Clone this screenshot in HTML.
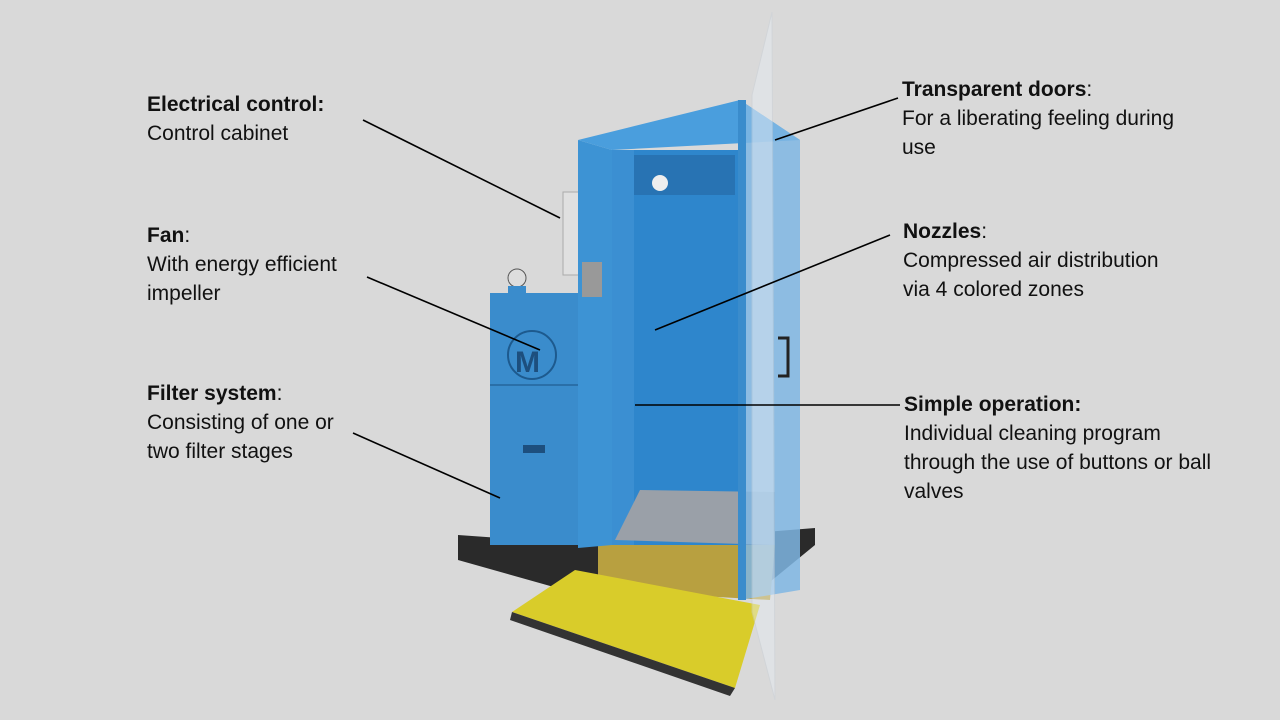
<!DOCTYPE html>
<html><head><meta charset="utf-8"><style>
html,body{margin:0;padding:0;}
body{width:1280px;height:720px;background:#d9d9d9;position:relative;overflow:hidden;font-family:"Liberation Sans",sans-serif;color:#111;}
.l{position:absolute;font-size:21px;line-height:29px;white-space:nowrap;}
.l b{font-weight:bold;}
svg{position:absolute;left:0;top:0;}
</style></head><body>
<svg width="1280" height="720" viewBox="0 0 1280 720">
  <polygon points="458,535 600,545 815,528 815,545 760,590 600,600 458,560" fill="#2a2a2a"/>
  <polygon points="598,545 775,545 770,600 598,590" fill="#b8a040"/>
  <polygon points="512,612 575,570 760,605 735,688" fill="#d9cc2a"/>
  <polygon points="512,612 735,688 730,696 510,620" fill="#333"/>
  <rect x="490" y="293" width="90" height="252" fill="#3a8ccc"/>
  <line x1="490" y1="385" x2="580" y2="385" stroke="#2a6fa8" stroke-width="2"/>
  <circle cx="532" cy="355" r="24" fill="none" stroke="#1d5a8e" stroke-width="2"/>
  <text x="515" y="372" font-family="Liberation Sans" font-weight="bold" font-size="30" fill="#1d4f7e">M</text>
  <circle cx="517" cy="278" r="9" fill="#ddd" stroke="#555"/>
  <rect x="508" y="286" width="18" height="10" fill="#3a8ccc"/>
  <rect x="523" y="445" width="22" height="8" fill="#1d4f7e"/>
  <rect x="563" y="192" width="16" height="83" fill="#e0e0e0" stroke="#aaa"/>
  <polygon points="578,140 612,150 612,545 578,548" fill="#3d93d4"/>
  <rect x="582" y="262" width="20" height="35" fill="#999"/>
  <polygon points="578,140 740,100 800,140 612,150" fill="#4a9edd"/>
  <rect x="612" y="150" width="130" height="395" fill="#2e86cc"/>
  <rect x="625" y="155" width="110" height="40" fill="#2873b3"/>
  <rect x="612" y="150" width="22" height="395" fill="#3b8fd2"/>
  <circle cx="660" cy="183" r="8" fill="#eee"/>
  <polygon points="615,540 640,490 775,492 775,545" fill="#9aa0a8"/>
  <polygon points="740,100 800,140 800,590 740,600" fill="#7fb6e3" opacity="0.85"/>
  <rect x="738" y="100" width="8" height="500" fill="#3a8ccc"/>
  <path d="M778,338 h10 v38 h-10" fill="none" stroke="#222" stroke-width="3"/>
  <polygon points="772,12 775,700 752,612 752,95" fill="#e8eef4" opacity="0.45" stroke="#c8d0d8"/>
  <g stroke="#000" stroke-width="1.6">
    <line x1="363" y1="120" x2="560" y2="218"/>
    <line x1="367" y1="277" x2="540" y2="350"/>
    <line x1="353" y1="433" x2="500" y2="498"/>
    <line x1="898" y1="98" x2="775" y2="140"/>
    <line x1="890" y1="235" x2="655" y2="330"/>
    <line x1="900" y1="405" x2="635" y2="405"/>
  </g>
</svg>
<div class="l" style="left:147px;top:90px"><b>Electrical control:</b><br>Control cabinet</div>
<div class="l" style="left:147px;top:221px"><b>Fan</b>:<br>With energy efficient<br>impeller</div>
<div class="l" style="left:147px;top:379px"><b>Filter system</b>:<br>Consisting of one or<br>two filter stages</div>
<div class="l" style="left:902px;top:75px"><b>Transparent doors</b>:<br>For a liberating feeling during<br>use</div>
<div class="l" style="left:903px;top:217px"><b>Nozzles</b>:<br>Compressed air distribution<br>via 4 colored zones</div>
<div class="l" style="left:904px;top:390px"><b>Simple operation:</b><br>Individual cleaning program<br>through the use of buttons or ball<br>valves</div>
</body></html>
